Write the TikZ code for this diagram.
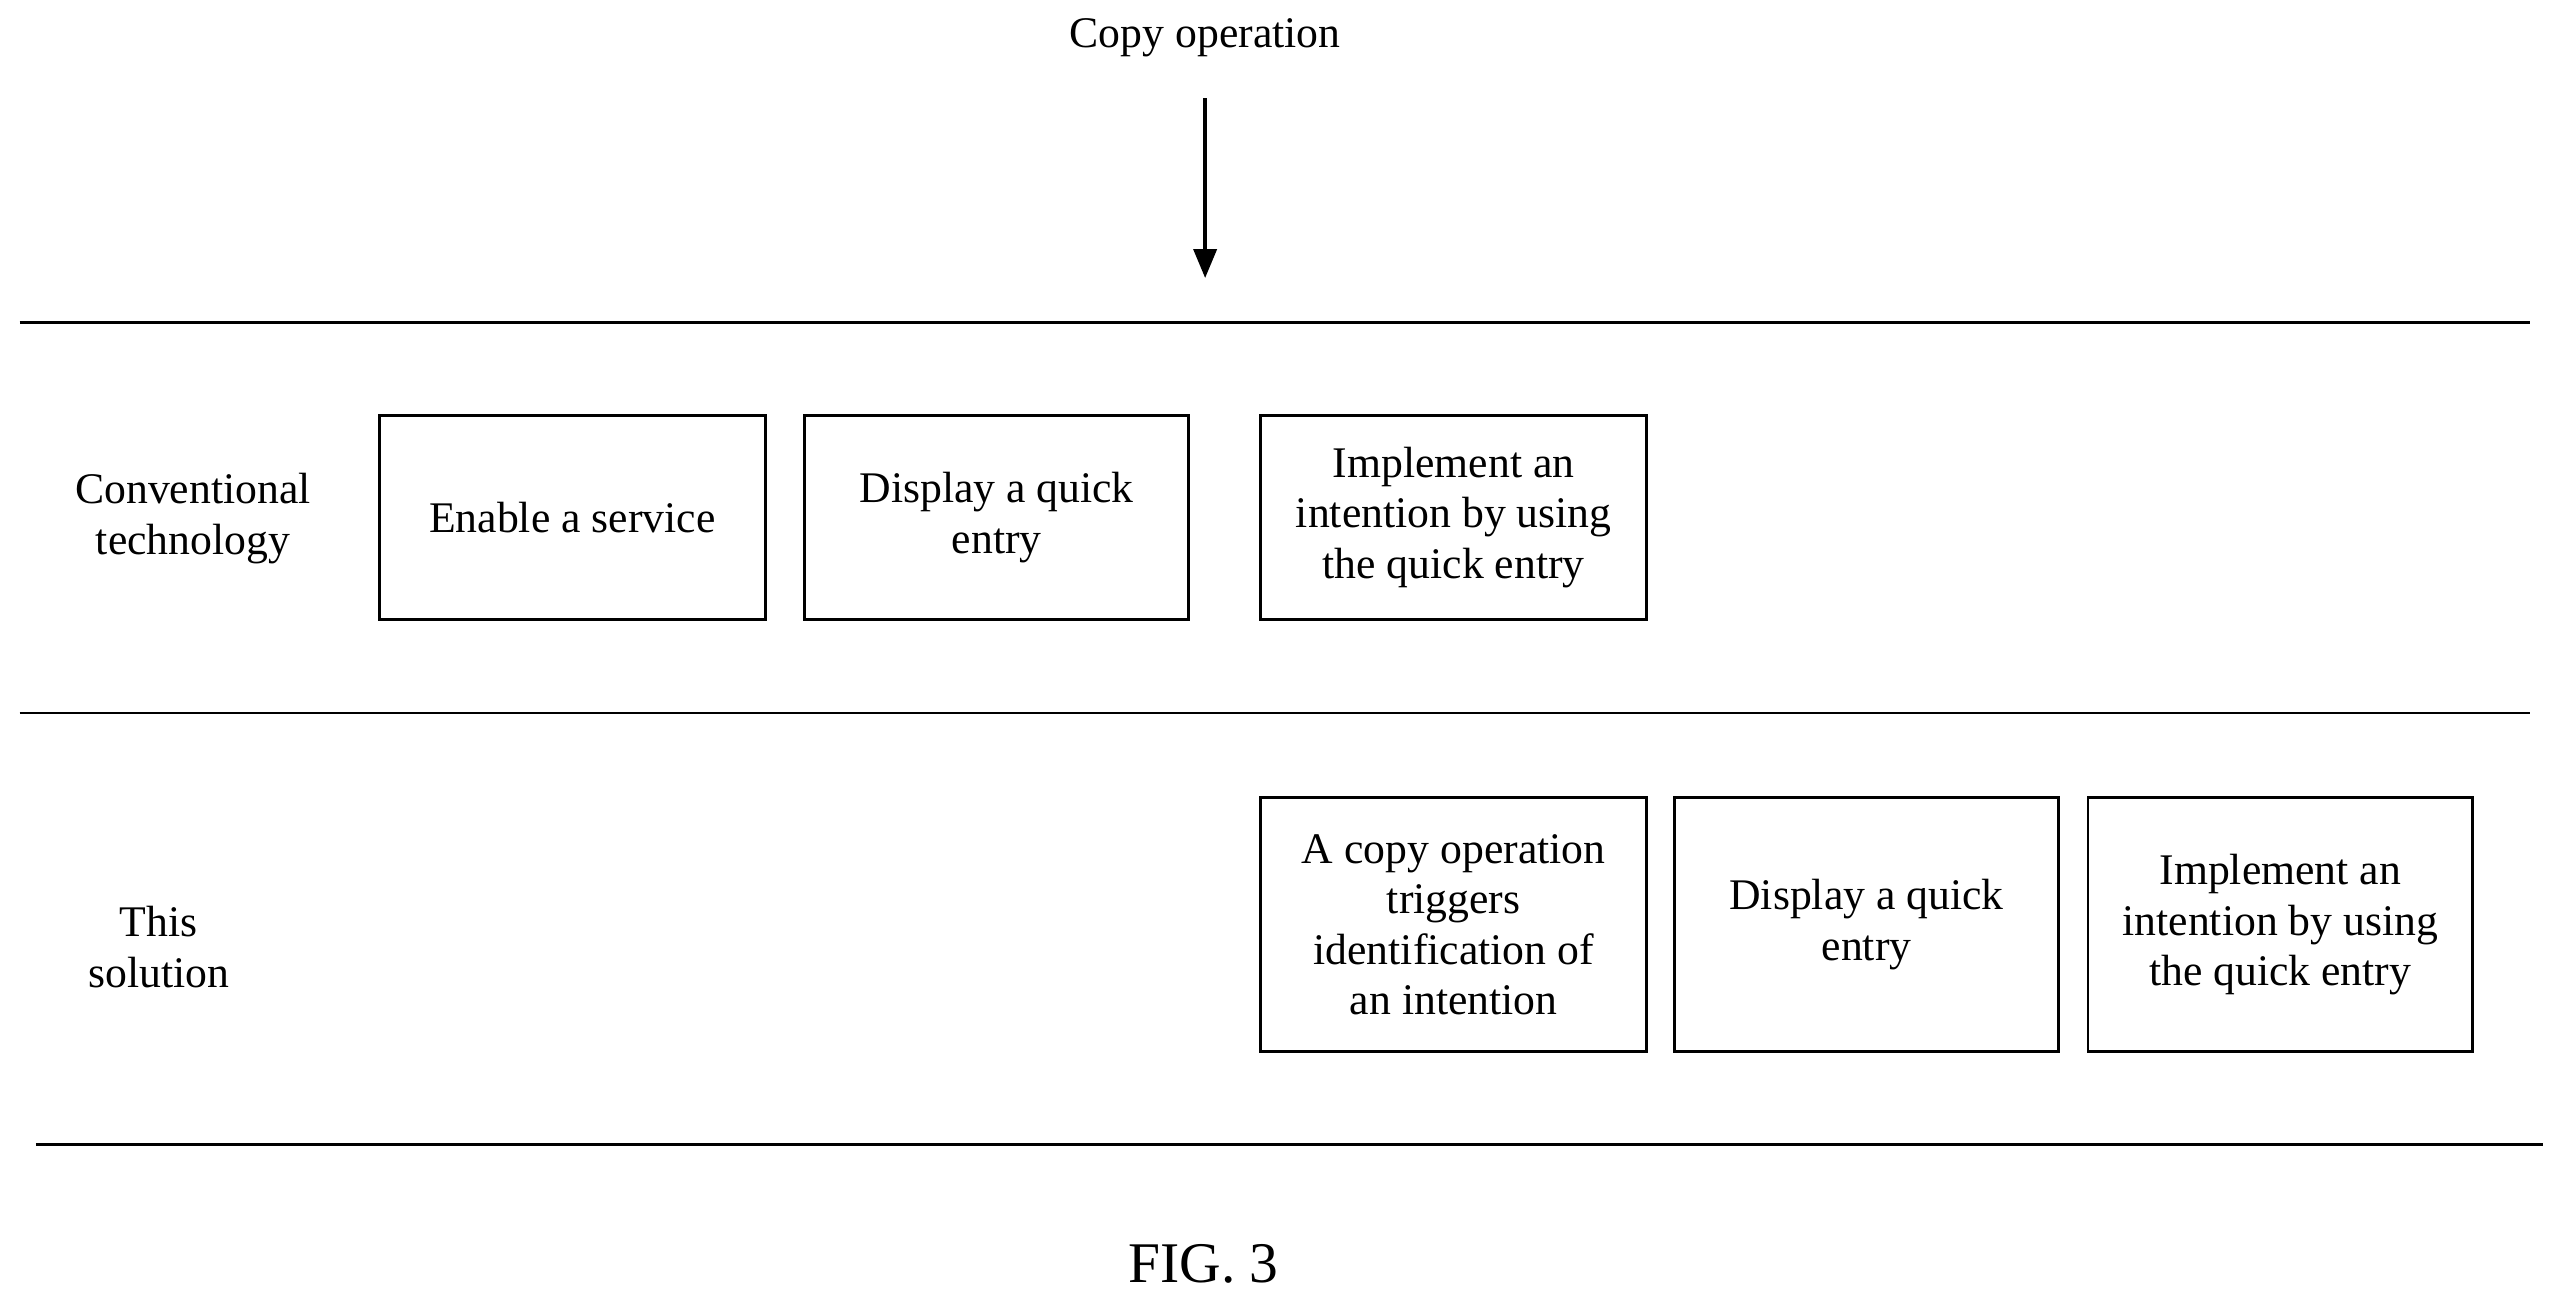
\documentclass[tikz,border=0pt]{standalone}
\usepackage{fontspec}
\setmainfont{Liberation Serif}
\usetikzlibrary{arrows.meta}
\begin{document}
\begin{tikzpicture}[x=0.01cm,y=-0.01cm,
  txt/.style={font=\fontsize{7.6}{8.8}\selectfont,align=center},
  box/.style={draw,line width=0.5pt,inner sep=0pt,txt},
  sep/.style={line width=0.5pt}]
\useasboundingbox (0,0) rectangle (1568,800);
\node[txt] (copy) at (737,23) {Copy operation};
\coordinate (a1) at (737,60); \coordinate (a2) at (737,170);
\draw[line width=0.6pt,-{Triangle[length=5pt,width=4pt]}] (a1) -- (a2);
\coordinate (l1a) at (12,197); \coordinate (l1b) at (1547,197);
\coordinate (l2a) at (12,436); \coordinate (l2b) at (1547,436);
\coordinate (l3a) at (22,700); \coordinate (l3b) at (1555,700);
\draw[sep] (l1a)--(l1b); \draw[sep] (l2a)--(l2b); \draw[sep] (l3a)--(l3b);
\node[txt] (conv) at (118,317) {Conventional\\technology};
\node[txt] (this) at (97,579) {This\\solution};
\node[box,minimum width=236\pgflinewidth,minimum width=2.36cm,minimum height=1.25cm] (b1) at (350,316.5) {Enable a service};
\node[box,minimum width=2.35cm,minimum height=1.25cm] (b2) at (609.5,316.5) {Display a quick\\entry};
\node[box,minimum width=2.36cm,minimum height=1.25cm] (b3) at (889,316.5) {Implement an\\intention by using\\the quick entry};
\node[box,minimum width=2.36cm,minimum height=1.55cm] (b4) at (889,565.5) {A copy operation\\triggers\\identification of\\an intention};
\node[box,minimum width=2.35cm,minimum height=1.55cm] (b5) at (1141.5,565.5) {Display a quick\\entry};
\node[box,minimum width=2.35cm,minimum height=1.55cm] (b6) at (1394.5,565.5) {Implement an\\intention by using\\the quick entry};
\node[font=\fontsize{10}{12}\selectfont] (fig) at (736,773) {FIG. 3};
\end{tikzpicture}
\end{document}
